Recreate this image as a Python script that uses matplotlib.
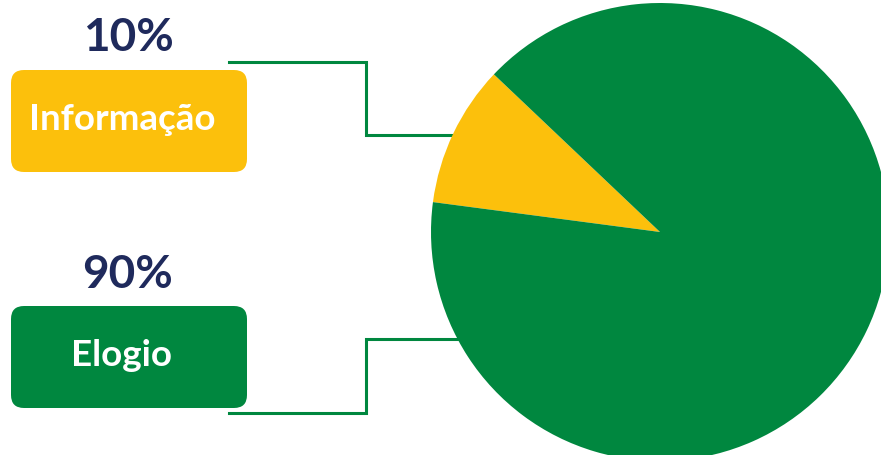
import matplotlib.pyplot as plt
from matplotlib.patches import FancyBboxPatch

# data
categories = ['Informação', 'Elogio']
shares = [10, 90]
pct_labels = ['10%', '90%']
colors = ['#FCC00C', '#00873F']
navy = '#1F2A5C'

W, H = 881, 455
fig = plt.figure(figsize=(W / 100, H / 100), dpi=100)
ax = fig.add_axes([0, 0, 1, 1])

# pie, partly off the right/bottom edge
ax.pie(shares, colors=colors, startangle=136.5, counterclock=True,
       center=(660, H - 232), radius=229,
       wedgeprops=dict(linewidth=0), frame=False)

# connector lines (drawn under the pie)
ax.plot([229, 366, 366, 480], [H - 62, H - 62, H - 135, H - 135],
        color=colors[1], lw=2.2, zorder=0, solid_joinstyle='miter')
ax.plot([229, 366, 366, 480], [H - 413, H - 413, H - 339, H - 339],
        color=colors[1], lw=2.2, zorder=0, solid_joinstyle='miter')

# label boxes
box_y = [(70, 172), (306, 408)]
pct_y = [38, 275]
for name, pct, col, (y0, y1), py in zip(categories, pct_labels, colors, box_y, pct_y):
    box = FancyBboxPatch((11, H - y1), 236, y1 - y0,
                         boxstyle='round,pad=0,rounding_size=13',
                         fc=col, ec='none', zorder=3)
    ax.add_patch(box)
    ax.text(122, H - (y0 + y1) / 2 + 2, name, color='white', fontsize=26.5,
            fontweight='bold', family='Lato', ha='center', va='center', zorder=4)
    ax.text(128, H - py, pct, color=navy, fontsize=33,
            fontweight='bold', family='Lato', ha='center', va='center', zorder=4)

ax.set_xlim(0, W)
ax.set_ylim(0, H)
ax.set_aspect('auto')
ax.set_axis_off()

fig.savefig('out.png', dpi=100)
